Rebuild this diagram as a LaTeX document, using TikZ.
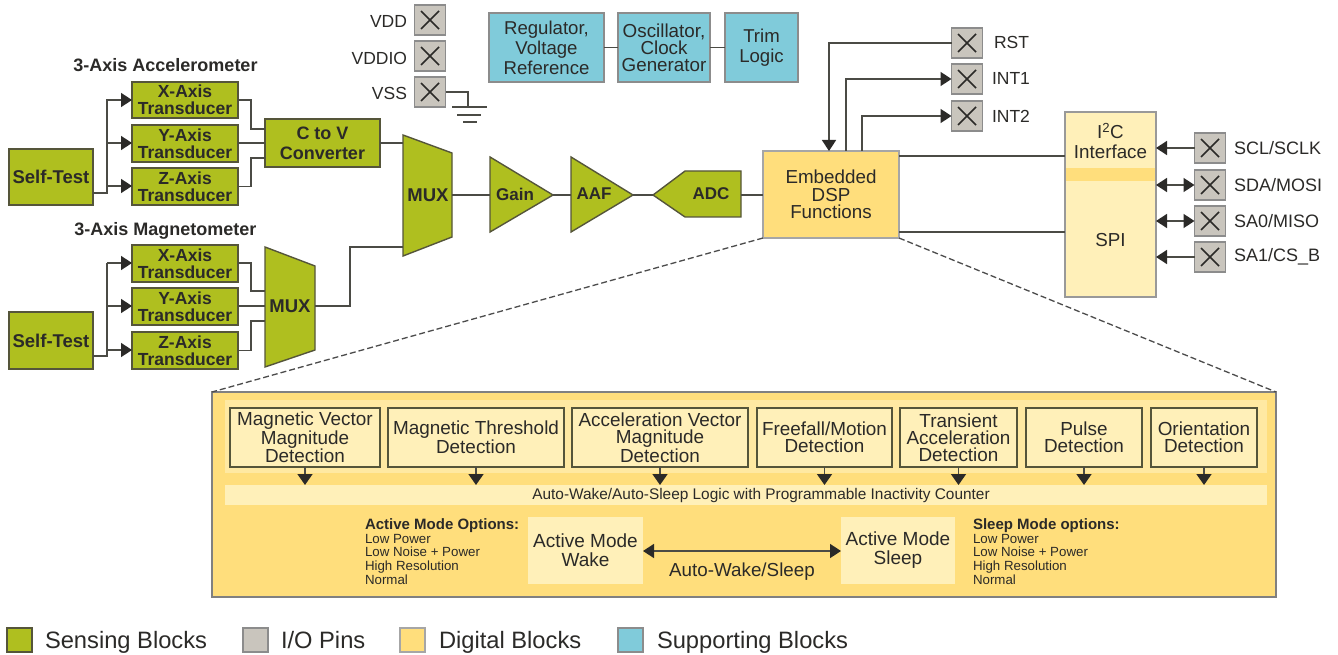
\documentclass[tikz,border=0pt]{standalone}
\usepackage{fontspec}
\setmainfont{Liberation Sans}
\usetikzlibrary{arrows.meta,calc}
\definecolor{sense}{HTML}{AFBF1F}
\definecolor{pingray}{HTML}{C9C5BD}
\definecolor{digi}{HTML}{FFDE7C}
\definecolor{digilight}{HTML}{FFF0B9}
\definecolor{digimid}{HTML}{FFE9A2}
\definecolor{support}{HTML}{80CBDA}
\definecolor{ink}{HTML}{2B2A28}
\definecolor{edge}{HTML}{55553A}
\definecolor{wirec}{HTML}{4B4B45}
\tikzset{
  x=1pt,y=-1pt,
  box/.style={inner sep=0pt,outer sep=0pt,align=center,text=ink},
  sensebox/.style={box,draw=edge,line width=1.4pt,fill=sense,font=\fontsize{17.5}{17}\selectfont\bfseries},
  selfbox/.style={sensebox,font=\fontsize{18.5}{18}\selectfont\bfseries},
  supbox/.style={box,draw=black!45,line width=1.2pt,fill=support,font=\fontsize{18.6}{20}\selectfont},
  digibox/.style={box,draw=black!35,line width=1.2pt,fill=digi,font=\fontsize{18.8}{17.5}\selectfont},
  detbox/.style={box,draw=edge,line width=1.3pt,fill=digilight,font=\fontsize{18.9}{17}\selectfont},
  modebox/.style={box,fill=digilight,font=\fontsize{19}{19}\selectfont},
  bandbox/.style={box,fill=digilight},
  pinbox/.style={box,draw=black!45,line width=1.3pt,fill=pingray},
  pinx/.style={line width=1.6pt,draw=ink},
  lab/.style={box,font=\fontsize{17.5}{18}\selectfont},
  labr/.style={box,font=\fontsize{18}{18}\selectfont},
  title/.style={box,anchor=base,font=\fontsize{18}{18}\selectfont\bfseries},
  shapetext/.style={box,font=\fontsize{18.5}{18}\selectfont\bfseries},
  tritext/.style={box,font=\fontsize{17}{18}\selectfont\bfseries},
  shapefill/.style={draw=edge,line width=1.4pt,fill=sense,line join=miter},
  wire/.style={draw=wirec,line width=1.6pt},
  arr/.style={wire,-{Triangle[length=11pt,width=14pt,color=ink,fill=ink]}},
  barr/.style={wire,{Triangle[length=11pt,width=14pt,color=ink,fill=ink]}-{Triangle[length=11pt,width=14pt,color=ink,fill=ink]}},
  darr/.style={wire,-{Triangle[length=11pt,width=15pt,color=ink,fill=ink]}},
  zoomline/.style={draw=black!70,line width=1.3pt,dash pattern=on 6pt off 3pt},
  small/.style={box,align=left,anchor=north west,font=\fontsize{13.3}{13.7}\selectfont},
  legtext/.style={box,anchor=base west,font=\fontsize{23.7}{24}\selectfont},
  legsq/.style={box,line width=1.3pt,minimum width=25pt,minimum height=24pt},
}
\newcommand{\bx}[7]{\node[#6,minimum width={(#4-#2)*1pt},minimum height={(#5-#3)*1pt}] (#1) at ({(#2+#4)/2},{(#3+#5)/2}) {#7};}
\newcommand{\pin}[3]{\node[pinbox,minimum width=31pt,minimum height=30pt] (#1) at (#2,#3) {};
  \draw[pinx] ([shift={(-9pt,-9pt)}]#1.center) -- ([shift={(9pt,9pt)}]#1.center);
  \draw[pinx] ([shift={(-9pt,9pt)}]#1.center) -- ([shift={(9pt,-9pt)}]#1.center);}
\begin{document}
\begin{tikzpicture}
\useasboundingbox[fill=white] (0,0) rectangle (1338,655);
% ---- dashed zoom lines and detail panel
\bx{panel}{212}{392}{1276}{597}{box,draw=black!50,line width=1.2pt,fill=digi}{}
\bx{dsp}{763}{151}{899}{238}{digibox}{Embedded\\DSP\\Functions}
\draw[zoomline] (dsp.south west) -- (panel.north west);
\draw[zoomline] (dsp.south east) -- (panel.north east);
\bx{topband}{225}{400}{1267}{473}{box,fill=digimid}{}
\bx{logic}{225}{485}{1267}{505}{bandbox}{}
\node[box,font=\fontsize{15.4}{15}\selectfont] (logict) at (761,496) {Auto-Wake/Auto-Sleep Logic with Programmable Inactivity Counter};
% ---- accelerometer
\node[title] (tacc) at (165.5,72) {3-Axis Accelerometer};
\node[title] (tmag) at (165.5,236) {3-Axis Magnetometer};
\bx{st1}{9}{149}{93}{205}{selfbox}{Self-Test}
\bx{ax}{132}{82}{238}{118}{sensebox}{X-Axis\\Transducer}
\bx{ay}{132}{125}{238}{162}{sensebox}{Y-Axis\\Transducer}
\bx{az}{132}{168}{238}{205}{sensebox}{Z-Axis\\Transducer}
\bx{cv}{265}{119}{380}{167}{sensebox,font=\fontsize{18}{20}\selectfont\bfseries}{C to V\\Converter}
% ---- magnetometer
\bx{st2}{9}{312}{93}{369}{selfbox}{Self-Test}
\bx{mx}{132}{245}{238}{282}{sensebox}{X-Axis\\Transducer}
\bx{my}{132}{288}{238}{325}{sensebox}{Y-Axis\\Transducer}
\bx{mz}{132}{332}{238}{369}{sensebox}{Z-Axis\\Transducer}
% ---- mux 2
\coordinate (mb1) at (265,247); \coordinate (mb2) at (315,266); \coordinate (mb3) at (315,350); \coordinate (mb4) at (265,367);
\draw[shapefill] (mb1) -- (mb2) -- (mb3) -- (mb4) -- cycle;
\node[shapetext] (mbt) at (290,306) {MUX};
\coordinate (mbin1) at (265,291); \coordinate (mbin2) at (265,306); \coordinate (mbin3) at (265,321); \coordinate (mbout) at (315,306);
% ---- mux 1
\coordinate (ma1) at (403,135); \coordinate (ma2) at (452,153); \coordinate (ma3) at (452,237); \coordinate (ma4) at (403,256);
\draw[shapefill] (ma1) -- (ma2) -- (ma3) -- (ma4) -- cycle;
\node[shapetext] (mat) at (428,195) {MUX};
\coordinate (main1) at (403,143); \coordinate (main2) at (403,247); \coordinate (maout) at (452,195);
% ---- gain, aaf, adc
\coordinate (g1) at (490,157); \coordinate (g2) at (553,195); \coordinate (g3) at (490,232);
\draw[shapefill] (g1) -- (g2) -- (g3) -- cycle;
\node[tritext] (gt) at (515,194) {Gain};
\coordinate (ga) at (490,195);
\coordinate (f1) at (571,157); \coordinate (f2) at (633,195); \coordinate (f3) at (571,232);
\draw[shapefill] (f1) -- (f2) -- (f3) -- cycle;
\node[tritext] (ft) at (594,194) {AAF};
\coordinate (fa) at (571,195);
\coordinate (d1) at (653,195); \coordinate (d2) at (685,171); \coordinate (d3) at (741,171); \coordinate (d4) at (741,217); \coordinate (d5) at (685,217);
\draw[shapefill] (d1) -- (d2) -- (d3) -- (d4) -- (d5) -- cycle;
\node[tritext] (dt) at (711,194) {ADC};
\coordinate (dr) at (741,195);
% ---- analog chain wires
\draw[wire] (cv.east |- main1) -- (main1);
\draw[wire] (maout) -- (ga);
\draw[wire] (g2) -- (fa);
\draw[wire] (f2) -- (d1);
\draw[wire] (dr) -- (dsp.west |- dr);
% ---- accelerometer wires
\coordinate (ja) at (107,186); \coordinate (jb) at (107,143); \coordinate (jc) at (107,100);
\coordinate (ca) at (251,129); \coordinate (cb) at (251,158);
\draw[wire] ([yshift=-16pt]st1.east) -| (jb);
\draw[arr] (jb) |- (ax.west);
\draw[arr] (jb) -- (jb -| ay.west);
\draw[arr] (ja) -- (ja -| az.west);
\draw[wire] (ax.east) -| (ca) -- (ca -| cv.west);
\draw[wire] (ay.east |- main1) -- (cv.west |- main1);
\draw[wire] (az.east) -| (cb) -- (cb -| cv.west);
% ---- magnetometer wires
\coordinate (ka) at (107,350); \coordinate (kb) at (107,306); \coordinate (kc) at (107,263);
\coordinate (cc) at (251,291); \coordinate (cd) at (251,321);
\draw[wire] ([yshift=-15.5pt]st2.east) -| (kb);
\draw[wire] (kc) -- (kb);
\draw[arr] (kc) -- (kc -| mx.west);
\draw[arr] (kb) -- (kb -| my.west);
\draw[arr] (ka) -- (ka -| mz.west);
\draw[wire] (mx.east |- kc) -| (cc) -- (mbin1);
\draw[wire] (my.east |- mbin2) -- (mbin2);
\draw[wire] (mz.east) -| (cd) -- (mbin3);
\coordinate (ce) at (350,247);
\draw[wire] (mbout) -| (ce) -- (main2);
% ---- power pins
\pin{vdd}{430}{20} \pin{vddio}{430}{56} \pin{vss}{430}{92}
\node[lab,anchor=east] (lvdd) at (407,21) {VDD};
\node[lab,anchor=east] (lvddio) at (407,58) {VDDIO};
\node[lab,anchor=east] (lvss) at (407,93) {VSS};
\coordinate (gnd1) at (468,107); \coordinate (gl1) at (452,107); \coordinate (gr1) at (487,107);
\coordinate (gl2) at (457,115); \coordinate (gr2) at (481,115); \coordinate (gl3) at (463,122); \coordinate (gr3) at (477,122);
\draw[wire,line width=1.3pt] (vss.east) -| (gnd1);
\draw[wire,line width=1.3pt] (gl1) -- (gr1);
\draw[wire,line width=1.3pt] (gl2) -- (gr2);
\draw[wire,line width=1.3pt] (gl3) -- (gr3);
% ---- supporting blocks
\bx{reg}{489}{13}{604}{82}{supbox}{Regulator,\\Voltage\\Reference}
\bx{osc}{618}{13}{710}{82}{supbox,font=\fontsize{18.8}{17}\selectfont}{Oscillator,\\Clock\\Generator}
\bx{trim}{725}{13}{798}{82}{supbox}{Trim\\Logic}
\draw[wire] (reg) -- (osc);
\draw[wire] (osc) -- (trim);
% ---- DSP pins
\pin{rst}{967}{43} \pin{inta}{967}{79} \pin{intb}{967}{116}
\node[lab,anchor=west] (lrst) at (994,42) {RST};
\node[lab,anchor=west] (linta) at (992,78) {INT1};
\node[lab,anchor=west] (lintb) at (992,116) {INT2};
\coordinate (drst) at (829,151); \coordinate (dia) at (846,151); \coordinate (dib) at (862,151);
\draw[arr] (rst.west) -| (drst);
\draw[arr] (dia) |- (inta.west);
\draw[arr] (dib) |- (intb.west);
% ---- interface
\bx{iface}{1065}{112}{1156}{297}{box,draw=black!40,line width=1.3pt,fill=digilight}{}
\bx{iband}{1066}{168}{1155}{181}{box,fill=digi}{}
\node[box,font=\fontsize{18.8}{20}\selectfont] (ii) at (1110.5,141) {I\textsuperscript{2}C\\Interface};
\node[box,font=\fontsize{18.8}{20}\selectfont] (is) at (1110.5,240) {SPI};
\coordinate (ya) at (899,156); \coordinate (yb) at (899,232);
\draw[wire] (ya) -- (ya -| iface.west);
\draw[wire] (yb) -- (yb -| iface.west);
\pin{scl}{1210}{148} \pin{sda}{1210}{185} \pin{sao}{1210}{221} \pin{sai}{1210}{257}
\node[labr,anchor=west] (lscl) at (1234,148) {SCL/SCLK};
\node[labr,anchor=west] (lsda) at (1234,185) {SDA/MOSI};
\node[labr,anchor=west] (lsao) at (1234,221) {SA0/MISO};
\node[labr,anchor=west] (lsai) at (1234,257) {SA1/CS\_B};
\draw[arr] (scl.west) -- (iface.east |- scl.west);
\draw[barr] (sda.west) -- (iface.east |- sda.west);
\draw[barr] (sao.west) -- (iface.east |- sao.west);
\draw[arr] (sai.west) -- (iface.east |- sai.west);
% ---- detection boxes
\bx{d1b}{230}{408}{380}{467}{detbox}{Magnetic Vector\\Magnitude\\Detection}
\bx{d2b}{388}{408}{564}{467}{detbox}{Magnetic Threshold\\Detection}
\bx{d3b}{572}{408}{748}{467}{detbox}{Acceleration Vector\\Magnitude\\Detection}
\bx{d4b}{757}{408}{892}{467}{detbox}{Freefall/Motion\\Detection}
\bx{d5b}{900}{408}{1017}{467}{detbox}{Transient\\Acceleration\\Detection}
\bx{d6b}{1026}{408}{1142}{467}{detbox}{Pulse\\Detection}
\bx{d7b}{1151}{408}{1257}{467}{detbox}{Orientation\\Detection}
\draw[darr] (d1b.south) -- (d1b.south |- logic.north);
\draw[darr] (d2b.south) -- (d2b.south |- logic.north);
\draw[darr] (d3b.south) -- (d3b.south |- logic.north);
\draw[darr] (d4b.south) -- (d4b.south |- logic.north);
\draw[darr] (d5b.south) -- (d5b.south |- logic.north);
\draw[darr] (d6b.south) -- (d6b.south |- logic.north);
\draw[darr] (d7b.south) -- (d7b.south |- logic.north);
% ---- modes
\bx{wake}{528}{517}{643}{584}{modebox}{Active Mode\\Wake}
\bx{sleep}{841}{517}{955}{584}{modebox}{Active Mode\\Sleep}
\coordinate (my0) at (700,551);
\draw[barr] (my0 -| wake.east) -- (my0 -| sleep.west);
\node[box,font=\fontsize{18.8}{20}\selectfont] (aws) at (742,572) {Auto-Wake/Sleep};
\node[small] (oa) at (365,518.5) {{\fontsize{15}{15}\selectfont\bfseries Active Mode Options:}\\Low Power\\Low Noise + Power\\High Resolution\\Normal};
\node[small] (os) at (973,518.5) {{\fontsize{15}{15}\selectfont\bfseries Sleep Mode options:}\\Low Power\\Low Noise + Power\\High Resolution\\Normal};
% ---- legend
\node[legsq,draw=edge,fill=sense] (l1) at (19.5,640) {};
\node[legtext] (t1) at (45,648) {Sensing Blocks};
\node[legsq,draw=black!45,fill=pingray] (l2) at (255.5,640) {};
\node[legtext] (t2) at (281,648) {I/O Pins};
\node[legsq,draw=black!35,fill=digi] (l3) at (412.5,640) {};
\node[legtext] (t3) at (439,648) {Digital Blocks};
\node[legsq,draw=black!45,fill=support] (l4) at (630.5,640) {};
\node[legtext] (t4) at (657,648) {Supporting Blocks};
\end{tikzpicture}
\end{document}
